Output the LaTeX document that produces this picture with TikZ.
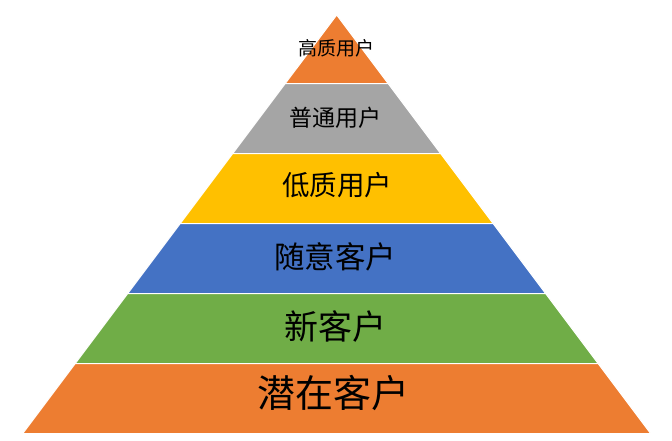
\documentclass[tikz,border=0pt]{standalone}
\usepackage{fontspec}
\newfontfamily\cjk{Noto Sans CJK SC}
\usepackage{tikz}
\usetikzlibrary{positioning,calc}

\definecolor{lvorange}{HTML}{ED7D31}
\definecolor{lvgray}{HTML}{A5A5A5}
\definecolor{lvyellow}{HTML}{FFC000}
\definecolor{lvblue}{HTML}{4472C4}
\definecolor{lvgreen}{HTML}{70AD47}

\begin{document}
\begin{tikzpicture}[
    x=1pt, y=-1pt,
    lv/.style={draw=white, line width=1pt},
    lb/.style={text=black, inner sep=0pt, anchor=center},
]
    \useasboundingbox (0,0) rectangle (672,440);
    % layers, top to bottom
    \filldraw[lv, fill=lvorange] (336.7,15) -- (388.1,83.5) -- (285.3,83.5) -- cycle;
    \filldraw[lv, fill=lvgray] (285.3,83.5) -- (388.1,83.5) -- (440.6,153.5) -- (232.8,153.5) -- cycle;
    \filldraw[lv, fill=lvyellow] (232.8,153.5) -- (440.6,153.5) -- (493.1,223.5) -- (180.3,223.5) -- cycle;
    \filldraw[lv, fill=lvblue] (180.3,223.5) -- (493.1,223.5) -- (545.6,293.5) -- (127.8,293.5) -- cycle;
    \filldraw[lv, fill=lvgreen] (127.8,293.5) -- (545.6,293.5) -- (598.1,363.5) -- (75.3,363.5) -- cycle;
    \filldraw[lv, fill=lvorange] (75.3,363.5) -- (598.1,363.5) -- (650.6,433.5) -- (22.8,433.5) -- cycle;
    % labels
    \node[lb, font=\cjk\fontsize{19}{19}\selectfont] (l1) at (336.5,48) {高质用户};
    \node[lb, font=\cjk\fontsize{23}{23}\selectfont] (l2) at (335,118) {普通用户};
    \node[lb, font=\cjk\fontsize{27.5}{27.5}\selectfont] (l3) at (337,185) {低质用户};
    \node[lb, font=\cjk\fontsize{30.5}{30.5}\selectfont] (l4) at (335,257) {随意客户};
    \node[lb, font=\cjk\fontsize{34}{34}\selectfont] (l5) at (335,327) {新客户};
    \node[lb, font=\cjk\fontsize{38}{38}\selectfont] (l6) at (333,393) {潜在客户};
\end{tikzpicture}
\end{document}
